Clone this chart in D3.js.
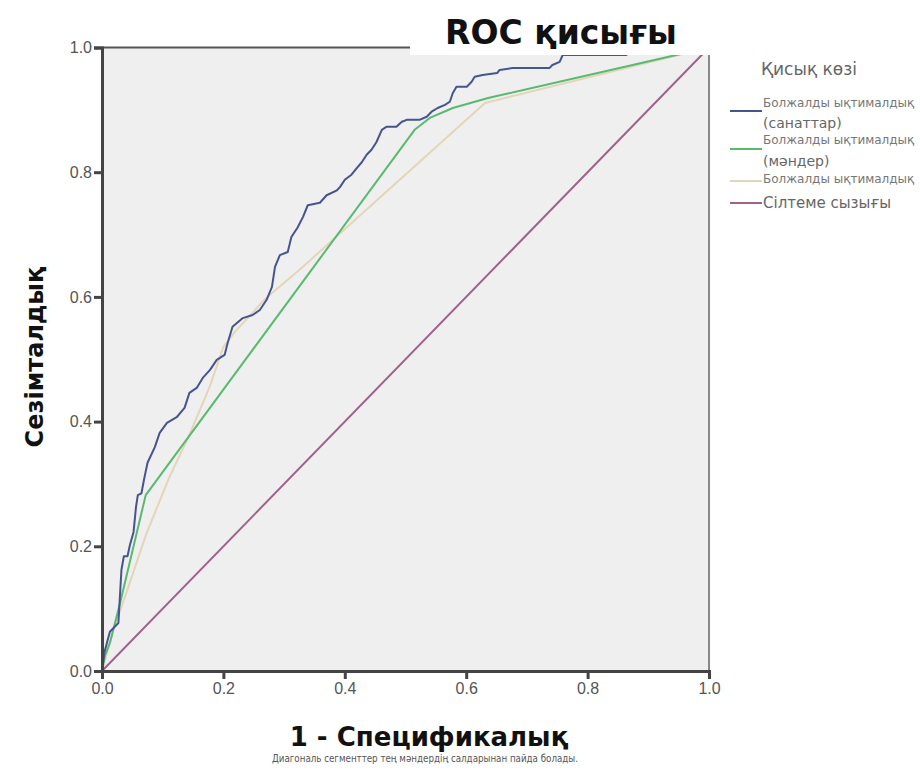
<!DOCTYPE html>
<html>
<head>
<meta charset="utf-8">
<script src="https://cdn.jsdelivr.net/npm/d3@7"></script>
<style>
  body { margin: 0; background: #fff; }
  svg { display: block; }
</style>
</head>
<body>
<div id="root"></div>
<script>
// Data (1 - specificity, sensitivity)
const categoriesCurve = [
  [0, 0], [0.004, 0.03], [0.013, 0.063], [0.027, 0.077], [0.032, 0.162],
  [0.036, 0.184], [0.042, 0.184], [0.046, 0.202], [0.052, 0.223], [0.056, 0.263],
  [0.059, 0.282], [0.065, 0.285], [0.069, 0.306], [0.075, 0.334], [0.087, 0.359],
  [0.095, 0.382], [0.107, 0.398], [0.123, 0.407], [0.136, 0.422], [0.144, 0.446],
  [0.156, 0.454], [0.166, 0.47], [0.178, 0.483], [0.189, 0.499], [0.202, 0.507],
  [0.207, 0.526], [0.215, 0.552], [0.232, 0.566], [0.248, 0.571], [0.26, 0.579],
  [0.271, 0.595], [0.28, 0.616], [0.285, 0.648], [0.293, 0.667], [0.306, 0.672],
  [0.312, 0.696], [0.322, 0.711], [0.331, 0.728], [0.339, 0.747], [0.359, 0.751],
  [0.37, 0.763], [0.387, 0.771], [0.392, 0.776], [0.4, 0.788], [0.411, 0.796],
  [0.42, 0.807], [0.428, 0.816], [0.436, 0.828], [0.444, 0.836], [0.452, 0.848],
  [0.461, 0.868], [0.469, 0.873], [0.485, 0.873], [0.494, 0.881], [0.502, 0.884],
  [0.523, 0.884], [0.535, 0.889], [0.543, 0.897], [0.553, 0.903], [0.565, 0.908],
  [0.573, 0.913], [0.578, 0.927], [0.584, 0.937], [0.601, 0.937], [0.609, 0.945],
  [0.614, 0.953], [0.627, 0.956], [0.651, 0.959], [0.655, 0.964], [0.676, 0.967],
  [0.737, 0.967], [0.742, 0.972], [0.754, 0.977], [0.759, 0.988], [0.864, 0.988],
  [0.864, 1], [1, 1]
];
const valuesCurve = [
  [0, 0], [0.005, 0.025], [0.013, 0.045], [0.03, 0.11], [0.072, 0.282],
  [0.515, 0.868], [0.54, 0.887], [0.578, 0.903], [0.636, 0.919], [1, 1]
];
const probCurve = [
  [0, 0], [0.02, 0.07], [0.04, 0.125], [0.073, 0.22], [0.111, 0.311],
  [0.14, 0.37], [0.177, 0.455], [0.2, 0.52], [0.22, 0.545], [0.27, 0.598],
  [0.325, 0.643], [0.631, 0.911], [1, 1]
];
const referenceCurve = [[0, 0], [1, 1]];

const tickValues = [0, 0.2, 0.4, 0.6, 0.8, 1.0];
const legendLabels = [
  ['Болжалды ықтималдық', '(санаттар)'],
  ['Болжалды ықтималдық', '(мәндер)'],
  ['Болжалды ықтималдық'],
  ['Сілтеме сызығы']
];
const seriesColors = ['#46548f', '#58ba6f', '#e3d6b8', '#a0628c'];

// Chart
const width = 920, height = 774;
const svg = d3.select('#root').append('svg').attr('width', width).attr('height', height);

const x = d3.scaleLinear().domain([0, 1]).range([102, 709]);
const y = d3.scaleLinear().domain([0, 1]).range([671, 47.5]);

svg.append('rect')
  .attr('x', x(0)).attr('y', y(1))
  .attr('width', x(1) - x(0)).attr('height', y(0) - y(1))
  .attr('fill', '#efefef');

// frame top / right
svg.append('line').attr('x1', x(0)).attr('x2', x(1)).attr('y1', y(1)).attr('y2', y(1))
  .attr('stroke', '#555').attr('stroke-width', 2);
svg.append('line').attr('x1', x(1)).attr('x2', x(1)).attr('y1', y(1)).attr('y2', y(0))
  .attr('stroke', '#888').attr('stroke-width', 2);

const line = d3.line().x(d => x(d[0])).y(d => y(d[1]));
const curves = [categoriesCurve, valuesCurve, probCurve, referenceCurve];
const drawOrder = [3, 2, 1, 0];
drawOrder.forEach(i => {
  svg.append('path')
    .datum(curves[i])
    .attr('d', line)
    .attr('fill', 'none')
    .attr('stroke', seriesColors[i])
    .attr('stroke-width', 2)
    .attr('stroke-linejoin', 'round');
});

// Axes
const fmt = d3.format('.1f');
const xAxis = svg.append('g').attr('transform', `translate(0,${y(0)})`)
  .call(d3.axisBottom(x).tickValues(tickValues).tickFormat(fmt).tickSize(8).tickPadding(4));
const yAxis = svg.append('g').attr('transform', `translate(${x(0)},0)`)
  .call(d3.axisLeft(y).tickValues(tickValues).tickFormat(fmt).tickSize(8).tickPadding(2));
[xAxis, yAxis].forEach(g => {
  g.select('.domain').attr('stroke', '#444').attr('stroke-width', 3);
  g.selectAll('.tick line').attr('stroke', '#444').attr('stroke-width', 3);
  g.selectAll('.tick text')
    .attr('fill', '#555')
    .style('font-family', 'Liberation Sans, Arial, sans-serif')
    .style('font-size', '16px');
});

// Title box
svg.append('rect').attr('x', 410).attr('y', 0).attr('width', 310).attr('height', 55).attr('fill', '#fff');
svg.append('text')
  .attr('x', 561).attr('y', 44)
  .attr('text-anchor', 'middle')
  .style('font-family', 'DejaVu Sans, sans-serif')
  .style('font-weight', 'bold')
  .style('font-size', '33px')
  .attr('fill', '#111')
  .text('ROC қисығы');

// Axis titles
svg.append('text')
  .attr('x', 429).attr('y', 746)
  .attr('text-anchor', 'middle')
  .style('font-family', 'DejaVu Sans, sans-serif')
  .style('font-weight', 'bold')
  .style('font-size', '26px')
  .attr('fill', '#111')
  .text('1 - Спецификалық');

svg.append('text')
  .attr('transform', 'translate(43,357) rotate(-90)')
  .attr('text-anchor', 'middle')
  .style('font-family', 'DejaVu Sans, sans-serif')
  .style('font-weight', 'bold')
  .style('font-size', '24px')
  .attr('fill', '#111')
  .text('Сезімталдық');

svg.append('text')
  .attr('x', 425).attr('y', 762)
  .attr('text-anchor', 'middle')
  .style('font-family', 'DejaVu Sans Condensed, sans-serif')
  .style('font-size', '9.7px')
  .attr('fill', '#555')
  .text('Диагональ сегменттер тең мәндердің салдарынан пайда болады.');

// Legend
svg.append('text')
  .attr('x', 761).attr('y', 75)
  .style('font-family', 'DejaVu Sans, sans-serif')
  .style('font-size', '17px')
  .attr('fill', '#666')
  .text('Қисық көзі');

const legendLineY = [111, 149, 181, 203];
const legendTextY = [[107, 128], [144, 166], [183], [208]];
legendLabels.forEach((lbl, i) => {
  svg.append('line')
    .attr('x1', 730).attr('x2', 762)
    .attr('y1', legendLineY[i]).attr('y2', legendLineY[i])
    .attr('stroke', seriesColors[i]).attr('stroke-width', 2);
  lbl.forEach((t, j) => {
    const big = j === 1 || i === 3;
    svg.append('text')
      .attr('x', 763).attr('y', legendTextY[i][j])
      .style('font-family', 'DejaVu Sans, sans-serif')
      .style('font-size', big ? (i === 3 ? '15px' : '14px') : '12px')
      .attr('fill', big ? '#666' : '#777')
      .text(t);
  });
});
</script>
</body>
</html>
